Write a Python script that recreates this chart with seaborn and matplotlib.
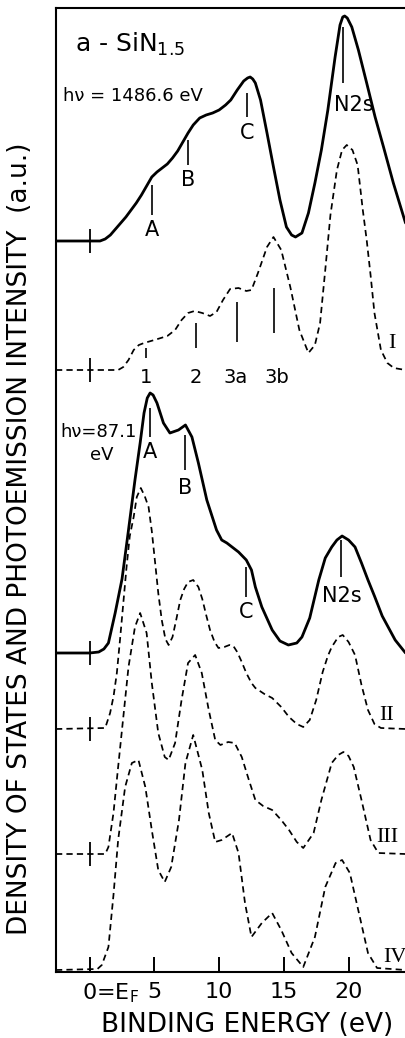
import numpy as np
import matplotlib
matplotlib.use("Agg")
import matplotlib.pyplot as plt
import matplotlib.transforms as mtransforms
import seaborn as sns

# ---- spectra: binding energy (eV) and intensity above each baseline (a.u.) ----
# XPS, h nu = 1486.6 eV (solid)
xps_E = [-2.6, 0.0, 0.8, 1.2, 1.6, 2.0, 2.4, 2.8, 3.2, 3.6, 4.0, 4.4, 4.8, 5.2, 5.6,
         6.0, 6.4, 6.8, 7.2, 7.6, 8.0, 8.5, 9.0, 9.5, 10.0, 10.5, 10.9, 11.4, 11.9,
         12.2, 12.4, 12.6, 12.8, 13.2, 13.7, 14.2, 14.7, 15.2, 15.6, 15.9, 16.4, 16.9,
         17.4, 17.9, 18.4, 18.96, 19.34, 19.55, 19.7, 19.9, 20.25, 20.76, 21.4, 22.05,
         22.7, 23.46, 24.4]
xps_I = [0, 0, 0, 0.02, 0.06, 0.12, 0.18, 0.24, 0.31, 0.38, 0.46, 0.55, 0.64, 0.69, 0.73,
         0.77, 0.83, 0.90, 0.99, 1.08, 1.16, 1.23, 1.26, 1.28, 1.31, 1.36, 1.41, 1.51, 1.60,
         1.63, 1.64, 1.62, 1.58, 1.41, 1.08, 0.74, 0.41, 0.14, 0.06, 0.04, 0.08, 0.28,
         0.58, 0.91, 1.31, 1.84, 2.16, 2.24, 2.25, 2.23, 2.14, 1.91, 1.58, 1.24,
         0.94, 0.58, 0.18]

# calculated DOS I (dashed)
dos1_E = [-2.6, 2.2, 2.6, 3.0, 3.4, 3.8, 4.2, 5.0, 6.0, 6.6, 7.1, 7.6, 8.1, 8.7, 9.3,
          9.8, 10.3, 10.85, 11.5, 12.1, 12.5, 13.0, 13.7, 14.2, 14.8, 15.5, 16.2, 16.9,
          17.4, 17.8, 18.2, 18.6, 19.1, 19.5, 19.86, 20.3, 20.7, 21.1, 21.4, 21.7, 22.0,
          22.5, 23.0, 23.5, 24.4]
dos1_I = [0, 0, 0.03, 0.10, 0.20, 0.25, 0.27, 0.30, 0.34, 0.40, 0.50, 0.57, 0.59, 0.57, 0.54,
          0.58, 0.70, 0.81, 0.82, 0.79, 0.80, 0.97, 1.23, 1.33, 1.20, 0.83, 0.40, 0.17,
          0.25, 0.47, 1.00, 1.55, 2.00, 2.20, 2.25, 2.20, 2.05, 1.60, 1.30, 0.95, 0.57,
          0.20, 0.07, 0.02, 0]

# UPS, h nu = 87.1 eV (solid)
ups_E = [-2.6, 0.0, 0.7, 1.1, 1.45, 1.97, 2.5, 3.0, 3.5, 3.9, 4.2, 4.45, 4.67, 4.9, 5.2,
         5.7, 6.2, 6.86, 7.4, 7.9, 8.4, 9.05, 9.8, 10.2, 10.6, 11.1, 11.5, 12.1, 12.5, 12.8,
         13.3, 14.1, 14.7, 15.35, 16.0, 16.4, 17.0, 17.7, 18.2, 18.7, 19.1, 19.5, 20.0,
         20.5, 21.0, 21.5, 22.0, 22.6, 23.1, 23.6, 24.4]
ups_I = [0, 0, 0.01, 0.04, 0.10, 0.40, 0.74, 1.23, 1.73, 2.10, 2.40, 2.55, 2.60, 2.58, 2.50,
         2.30, 2.20, 2.23, 2.28, 2.16, 1.90, 1.53, 1.23, 1.13, 1.10, 1.05, 1.01, 0.93, 0.83, 0.66,
         0.46, 0.23, 0.12, 0.08, 0.10, 0.16, 0.35, 0.73, 0.95, 1.06, 1.13, 1.17, 1.13,
         1.06, 0.90, 0.73, 0.57, 0.37, 0.25, 0.13, 0.0]

# calculated DOS II (dashed)
dos2_E = [-2.6, 1.2, 1.58, 1.85, 2.1, 2.35, 2.6, 2.85, 3.1, 3.4, 3.64, 3.95, 4.25, 4.55, 4.8,
          5.06, 5.3, 5.57, 5.85, 6.1, 6.4, 6.7, 7.0, 7.3, 7.6, 8.0, 8.4, 8.7, 9.0, 9.3,
          9.65, 9.95, 10.4, 10.8, 11.1, 11.4, 11.75, 12.1, 12.5, 12.8, 13.5, 14.1, 14.8,
          15.4, 16.0, 16.5, 17.0, 17.5, 18.0, 18.4, 18.7, 19.2, 19.55, 20.0, 20.5, 21.0,
          21.5, 22.0, 22.5, 24.4]
dos2_I = [0, 0.01, 0.16, 0.33, 0.56, 0.90, 1.26, 1.62, 1.93, 2.12, 2.32, 2.41, 2.33, 2.22, 1.98,
          1.66, 1.36, 1.09, 0.90, 0.84, 0.92, 1.10, 1.29, 1.40, 1.47, 1.49, 1.42, 1.30, 1.14, 0.99,
          0.87, 0.81, 0.82, 0.84, 0.83, 0.77, 0.67, 0.56, 0.46, 0.41, 0.35, 0.31, 0.22,
          0.12, 0.05, 0.02, 0.09, 0.29, 0.57, 0.73, 0.82, 0.92, 0.94, 0.87, 0.74, 0.44,
          0.19, 0.05, 0.01, 0]

# calculated DOS III (dashed)
dos3_E = [-2.6, 1.2, 1.45, 1.84, 2.2, 2.6, 3.0, 3.5, 3.9, 4.4, 4.8, 5.3, 5.8, 6.1, 6.6,
          7.1, 7.6, 8.15, 8.66, 9.2, 9.7, 10.1, 10.7, 11.2, 11.75, 12.3, 12.8, 13.4, 14.1, 14.8,
          15.4, 16.0, 16.5, 17.3, 17.9, 18.7, 19.2, 19.6, 20.0, 20.4, 21.0, 21.7, 22.3, 24.4]
dos3_I = [0, 0, 0.07, 0.41, 0.87, 1.37, 1.87, 2.27, 2.41, 2.21, 1.71, 1.21, 0.97, 0.94, 1.11,
          1.54, 1.91, 1.99, 1.81, 1.44, 1.14, 1.09, 1.12, 1.11, 0.97, 0.74, 0.54, 0.48, 0.44, 0.34,
          0.24, 0.12, 0.06, 0.21, 0.54, 0.91, 0.99, 1.02, 0.98, 0.87, 0.54, 0.14, 0.01, 0]

# calculated DOS IV (dashed)
dos4_E = [-2.6, 0.6, 0.94, 1.45, 1.84, 2.2, 2.74, 3.26, 3.77, 4.3, 4.8, 5.3, 5.8, 6.3, 6.9,
          7.4, 8.0, 8.7, 9.2, 9.7, 10.2, 11.0, 11.5, 12.0, 12.5, 13.3, 14.1, 14.8, 15.6, 16.5,
          17.4, 18.2, 19.0, 19.5, 20.1, 20.8, 21.5, 22.2, 24.4]
dos4_I = [0, 0.01, 0.05, 0.23, 0.75, 1.30, 1.83, 2.07, 2.10, 1.83, 1.40, 1.00, 0.88, 1.03, 1.50,
          2.07, 2.35, 2.00, 1.57, 1.28, 1.30, 1.37, 1.17, 0.67, 0.33, 0.47, 0.57, 0.40, 0.17, 0.03,
          0.33, 0.83, 1.07, 1.10, 0.97, 0.57, 0.17, 0.02, 0]

# vertical stacking offsets (a.u.)
baselines = [7.31, 6.02, 3.19, 2.43, 1.18, 0.02]

# peak markers: label, energy, line top, line bottom, label x, label y
xps_marks = [("A", 4.83, 7.87, 7.57, 4.83, 7.42),
             ("B", 7.60, 8.32, 8.07, 7.60, 7.92),
             ("C", 12.16, 8.79, 8.55, 12.16, 8.39),
             ("N2s", 19.57, 9.45, 8.89, 20.40, 8.67)]
dos1_marks = [("1", 4.36, 6.24, 6.14, 4.36, 5.95),
              ("2", 8.22, 6.49, 6.24, 8.22, 5.95),
              ("3a", 11.39, 6.70, 6.30, 11.24, 5.95),
              ("3b", 14.25, 6.84, 6.39, 14.48, 5.95)]
ups_marks = [("A", 4.67, 5.64, 5.35, 4.67, 5.20),
             ("B", 7.37, 5.37, 5.02, 7.37, 4.84),
             ("C", 12.08, 4.05, 3.75, 12.08, 3.60),
             ("N2s", 19.42, 4.32, 3.95, 19.50, 3.76)]

tick_pos = [0, 5, 10, 15, 20]
tick_labels = ["0=E$_\\mathregular{F}$", "5", "10", "15", "20"]

sns.set_theme(style="white")
plt.rcParams["font.family"] = ["DejaVu Sans"]
plt.rcParams["mathtext.fontset"] = "dejavusans"
plt.rcParams["text.color"] = "black"
plt.rcParams["axes.labelcolor"] = "black"
plt.rcParams["xtick.color"] = "black"

fig = plt.figure(figsize=(4.05, 10.38), dpi=100)
ax = fig.add_axes([56 / 405, 66 / 1038, 349 / 405, 964 / 1038])

solid_kw = dict(color="black", linewidth=2.0, estimator=None, sort=False)
dash_kw = dict(color="black", linewidth=1.25, linestyle=(0, (3.6, 2.4)),
               estimator=None, sort=False)

curves = [(xps_E, xps_I, solid_kw), (dos1_E, dos1_I, dash_kw),
          (ups_E, ups_I, solid_kw), (dos2_E, dos2_I, dash_kw),
          (dos3_E, dos3_I, dash_kw), (dos4_E, dos4_I, dash_kw)]
for (E, I, kw), base in zip(curves, baselines):
    sns.lineplot(x=np.asarray(E), y=np.asarray(I) + base, ax=ax, **kw)

# zero-energy crosses on each baseline
for base in baselines[:-1]:
    ax.vlines(0, base - 0.12, base + 0.12, color="black", linewidth=1.3)

# peak markers
def draw_marks(marks, size):
    for lab, e, y0, y1, tx, ty in marks:
        ax.vlines(e, y1, y0, color="black", linewidth=1.2)
        ax.text(tx, ty, lab, ha="center", va="center", fontsize=size, color="black")

draw_marks(xps_marks, 15)
draw_marks(dos1_marks, 14)
draw_marks(ups_marks, 15)

# annotations
ax.text(-1.12, 9.28, "a - SiN$_{1.5}$", ha="left", va="center", fontsize=18)
ax.text(-2.05, 8.76, "h\u03bd = 1486.6 eV", ha="left", va="center", fontsize=13)
ax.text(-2.25, 5.40, "h\u03bd=87.1", ha="left", va="center", fontsize=13)
ax.text(0.97, 5.17, "eV", ha="center", va="center", fontsize=13)

serif = ["Liberation Serif", "DejaVu Serif"]
ax.text(23.36, 6.29, "I", ha="center", va="center", fontsize=16, family=serif)
ax.text(22.97, 2.57, "II", ha="center", va="center", fontsize=16, family=serif)
ax.text(22.98, 1.35, "III", ha="center", va="center", fontsize=16, family=serif)
ax.text(22.70, 0.15, "IV", ha="left", va="center", fontsize=16, family=serif,
        clip_on=False)

# axes styling
ax.set_xlim(-2.6, 24.36)
ax.set_ylim(0, 9.64)
ax.set_yticks([])
ax.set_xticks(tick_pos)
ax.set_xticklabels(tick_labels)
ax.tick_params(axis="x", direction="in", length=11, width=1.4, pad=7,
               labelsize=16, bottom=True, colors="black")
first = ax.get_xticklabels()[0]
first.set_ha("left")
first.set_transform(first.get_transform() +
                    mtransforms.ScaledTranslation(-8 / 100, 0, fig.dpi_scale_trans))

for side in ("left", "top", "bottom"):
    ax.spines[side].set_visible(True)
    ax.spines[side].set_color("black")
    ax.spines[side].set_linewidth(1.5)
ax.spines["right"].set_visible(False)

ax.set_xlabel("BINDING ENERGY (eV)", fontsize=19, color="black")
ax.xaxis.set_label_coords((247 - 56) / 349, -0.042)
ax.set_ylabel("DENSITY OF STATES AND PHOTOEMISSION INTENSITY  (a.u.)",
              fontsize=19, color="black")
ax.yaxis.set_label_coords(-0.066, 0.449)

fig.savefig("out.png", dpi=100)
